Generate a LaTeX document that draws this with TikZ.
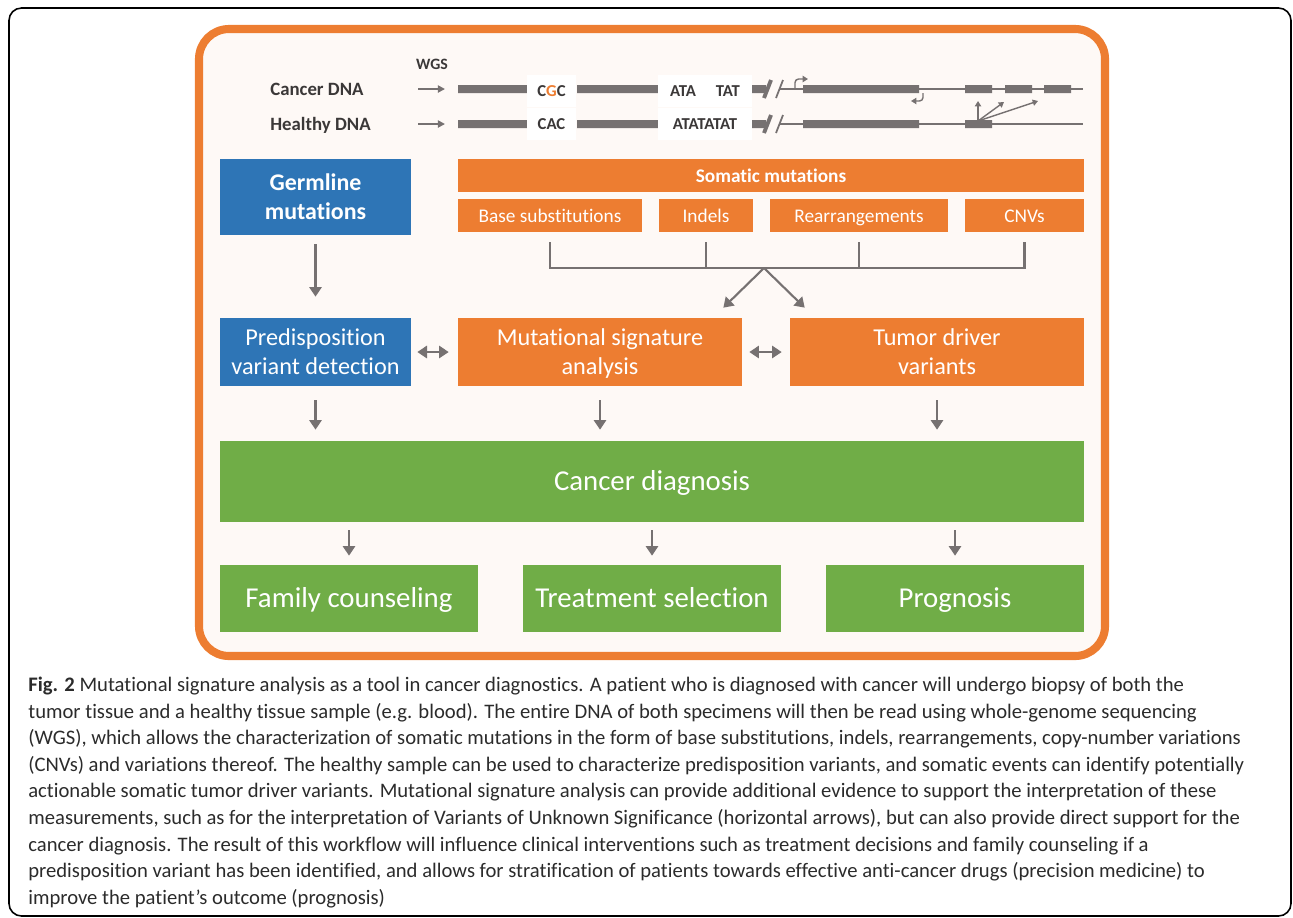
\documentclass[tikz,border=0pt]{standalone}
\usepackage[dvipsnames]{xcolor}
\usepackage{fontspec}
\setmainfont{Carlito}[Ligatures=NoCommon]
\usetikzlibrary{arrows.meta,calc}

\definecolor{boxblue}{HTML}{2E75B6}
\definecolor{boxorange}{HTML}{ED7D31}
\definecolor{boxgreen}{HTML}{70AD47}
\definecolor{arrgray}{HTML}{767171}
\definecolor{panel}{HTML}{FEF9F6}
\definecolor{dnatext}{HTML}{3B3838}
\definecolor{captext}{HTML}{2B2B2B}

\begin{document}
\begin{tikzpicture}[x=0.02cm,y=-0.02cm,
  box/.style={draw=none,text=white,align=center,inner sep=0pt},
  blue box/.style={box,fill=boxblue},
  orange box/.style={box,fill=boxorange},
  green box/.style={box,fill=boxgreen},
  size/.style 2 args={minimum width=#1,minimum height=#2},
  big font/.style={font=\fontsize{16.4}{19}\selectfont,text height=11.8pt,text depth=1.3pt},
  mid font/.style={font=\fontsize{13.8}{16.5}\selectfont,text depth=0pt},
  small font/.style={font=\fontsize{11}{13}\selectfont,text height=7.7pt,text depth=0pt},
  arr/.style={arrgray,line width=1.2pt,-{Triangle[width=7pt,length=5.5pt]}},
  dblarr/.style={arrgray,line width=1.2pt,{Triangle[width=7pt,length=5.5pt]}-{Triangle[width=7pt,length=5.5pt]}},
  bracket/.style={arrgray,line width=1.4pt},
  thinarr/.style={arrgray,line width=1pt,-{Triangle[width=4pt,length=4pt]}},
  tinyarr/.style={arrgray,line width=0.8pt,-{Triangle[width=3.5pt,length=3pt]}},
  dnalbl/.style={text=dnatext,inner sep=0pt,font=\fontsize{10.7}{12}\selectfont\bfseries},
  seqbox/.style={fill=white,text=dnatext,inner sep=0pt,minimum height=0.64cm,font=\fontsize{9.5}{11}\selectfont\bfseries}]

\useasboundingbox (0,0) rectangle (1293,917);

% frame and panel
\draw[line width=0.9pt,rounded corners=0.25cm] (9,8) rectangle (1291,916);
\draw[boxorange,fill=panel,line width=4.6pt,rounded corners=0.6cm] (199,29) rectangle (1105,656);

% DNA strip
\node[dnalbl,font=\fontsize{9}{10}\selectfont\bfseries] (wgs) at (432,64) {WGS};
\node[dnalbl,anchor=west] (cancer) at (270,89) {Cancer DNA};
\node[dnalbl,anchor=west] (healthy) at (270,125) {Healthy DNA};

\foreach \y in {89,124} {
  \draw[arrgray,line width=0.8pt] (780,\y) -- (803,\y) (919,\y) -- (1083,\y);
  \fill[arrgray] (458,\y-4) rectangle (527,\y+4)
                 (577,\y-4) rectangle (658,\y+4)
                 (752,\y-4) rectangle (766,\y+4)
                 (803,\y-4) rectangle (919,\y+4)
                 (965,\y-4) rectangle (992,\y+4);
  \draw[arrgray,line width=2.2pt] (764,\y+9) -- (771,\y-9);
  \draw[arrgray,line width=1pt] (776,\y+9) -- (783,\y-9);
  \draw[thinarr] (418,\y) -- (445,\y);
}
\fill[arrgray] (1005,85) rectangle (1032,93) (1044,85) rectangle (1071,93);

\node[seqbox,minimum width=0.98cm] (cgc) at (551.5,91) {C{\color{boxorange}G}C};
\node[seqbox,minimum width=1.88cm] (atatat) at (705,91) {ATA\hspace{1.2em}TAT};
\node[seqbox,minimum width=0.98cm] (cac) at (551.5,124) {CAC};
\node[seqbox,minimum width=1.88cm] (atatatat) at (705,124) {ATATATAT};

\draw[tinyarr,rounded corners=2pt] (795,89) |- (808,79);
\draw[tinyarr,rounded corners=2pt] (923,93) |- (911,101);
\coordinate (split) at (978,121);
\draw[tinyarr] (split) -- (978,101);
\draw[tinyarr] (split) -- (1004,102);
\draw[tinyarr] (split) -- (1038,101);

% mutation boxes
\node[blue box,size={3.82cm}{1.52cm},font=\fontsize{13.6}{16.5}\selectfont\bfseries,text depth=0pt] (germ) at (315.5,197) {Germline\\mutations};
\node[orange box,size={12.52cm}{0.66cm},font=\fontsize{11}{13}\selectfont\bfseries] (soma) at (771,175.5) {Somatic mutations};
\node[orange box,size={3.68cm}{0.66cm},small font] (base) at (550,215.5) {Base substitutions};
\node[orange box,size={1.88cm}{0.66cm},small font] (indel) at (706,215.5) {Indels};
\node[orange box,size={3.56cm}{0.66cm},small font] (rearr) at (859,215.5) {Rearrangements};
\node[orange box,size={2.38cm}{0.66cm},small font] (cnv) at (1024.5,215.5) {CNVs};

% analysis row
\node[blue box,size={3.82cm}{1.36cm},mid font] (pred) at (315.5,352) {Predisposition\\variant detection};
\node[orange box,size={5.68cm}{1.36cm},mid font] (msa) at (600,352) {Mutational signature\\analysis};
\node[orange box,size={5.88cm}{1.36cm},mid font] (tdv) at (937,352) {Tumor driver\\variants};

% diagnosis and outcomes
\node[green box,size={17.28cm}{1.62cm},big font] (diag) at (652,481.5) {Cancer diagnosis};
\node[green box,size={5.16cm}{1.34cm},big font] (fam) at (349,598.5) {Family counseling};
\node[green box,size={5.16cm}{1.34cm},big font] (treat) at (652,598.5) {Treatment selection};
\node[green box,size={5.16cm}{1.34cm},big font] (prog) at (955,598.5) {Prognosis};

% connectors
\coordinate (hub) at (764,268);
\draw[bracket] ($(base.south)+(0,10)$) |- (hub) -| ($(cnv.south)+(0,10)$);
\draw[bracket] ($(indel.south)+(0,10)$) -- (indel.south |- hub);
\draw[bracket] ($(rearr.south)+(0,10)$) -- (rearr.south |- hub);
\draw[arr] (hub) -- ($(msa.north east)+(-19,-10)$);
\draw[arr] (hub) -- ($(tdv.north west)+(15,-10)$);

\draw[arr,shorten <=0.18cm,shorten >=0.42cm] (germ) -- (pred);
\draw[dblarr,shorten <=0.12cm,shorten >=0.18cm] (pred) -- (msa);
\draw[dblarr,shorten <=0.14cm,shorten >=0.16cm] (msa) -- (tdv);
\foreach \n in {pred,msa,tdv}
  \draw[arr,shorten <=0.28cm,shorten >=0.22cm] (\n.south) -- (\n.south |- diag.north);
\foreach \n in {fam,treat,prog}
  \draw[arr,shorten <=0.16cm,shorten >=0.18cm] (diag.south -| \n.north) -- (\n.north);

% caption
\node[anchor=north west,align=left,inner sep=0pt,text=captext,
      font=\fontsize{11.75}{15.1}\selectfont] (caption) at (28,677)
{\textbf{Fig. 2} Mutational signature analysis as a tool in cancer diagnostics. A patient who is diagnosed with cancer will undergo biopsy of both the\\
tumor tissue and a healthy tissue sample (e.g. blood). The entire DNA of both specimens will then be read using whole-genome sequencing\\
(WGS), which allows the characterization of somatic mutations in the form of base substitutions, indels, rearrangements, copy-number variations\\
(CNVs) and variations thereof. The healthy sample can be used to characterize predisposition variants, and somatic events can identify potentially\\
actionable somatic tumor driver variants. Mutational signature analysis can provide additional evidence to support the interpretation of these\\
measurements, such as for the interpretation of Variants of Unknown Significance (horizontal arrows), but can also provide direct support for the\\
cancer diagnosis. The result of this workflow will influence clinical interventions such as treatment decisions and family counseling if a\\
predisposition variant has been identified, and allows for stratification of patients towards effective anti-cancer drugs (precision medicine) to\\
improve the patient’s outcome (prognosis)};
\end{tikzpicture}
\end{document}
